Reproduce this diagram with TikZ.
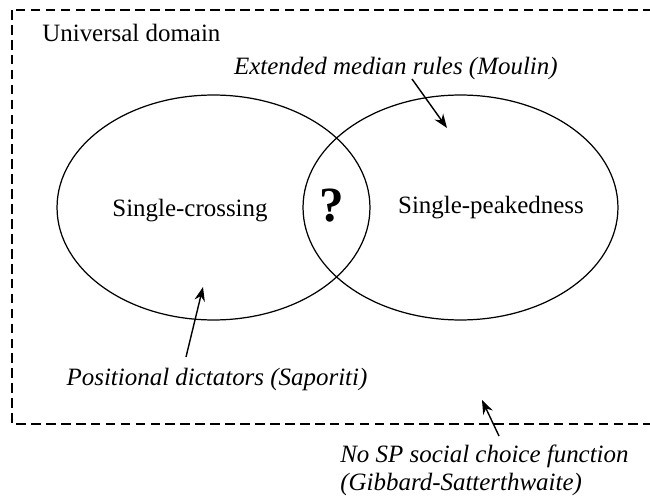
\documentclass[tikz,border=0pt]{standalone}
\usepackage{fontspec}
\setmainfont{Liberation Serif}
\usetikzlibrary{positioning, arrows.meta, shapes.geometric}

\begin{document}
\begin{tikzpicture}[
    x=0.02cm, y=-0.02cm,
    setbox/.style={draw, ellipse, line width=0.7pt, inner sep=0pt},
    lbl/.style={font=\fontsize{14.2}{16}\selectfont, inner sep=0pt},
    src/.style={font=\fontsize{14.2}{15.4}\selectfont\itshape, inner sep=0pt, align=left},
    arr/.style={-{Stealth[length=2.8mm, width=2.1mm]}, line width=0.8pt},
  ]
    \useasboundingbox (0,0) rectangle (650,500);
    \begin{scope}
      \clip (0,0) rectangle (650,500);
      \draw[dash pattern=on 5.5pt off 3pt, line width=0.7pt] (12,10) rectangle (680,424);
    \end{scope}

    \node[lbl, anchor=base west] (univ) at (42,42) {Universal domain};

    \node[setbox, minimum width=6.26cm, minimum height=4.5cm] (sc) at (213.5,207.5) {};
    \node[setbox, minimum width=6.3cm, minimum height=4.5cm] (sp) at (460.5,207.5) {};

    \node[lbl, anchor=base] (crossing) at (190,216) {Single-crossing};
    \node[lbl, anchor=base] (peaked) at (491,214) {Single-peakedness};
    \node[font=\fontsize{28}{30}\selectfont\bfseries, inner sep=0pt, anchor=base] (q) at (332,222) {?};

    \node[src, anchor=base east] (moulin) at (558,75) {Extended median rules (Moulin)};
    \node[src, anchor=base] (saporiti) at (217,385) {Positional dictators (Saporiti)};
    \node[src, anchor=base west] (gs) at (340,490) {No SP social choice function\\(Gibbard-Satterthwaite)};

    \coordinate (m1) at (412,79);
    \coordinate (m2) at (447,128);
    \coordinate (s1) at (186,357);
    \coordinate (s2) at (203,287);
    \coordinate (g1) at (499,436);
    \coordinate (g2) at (482,400);

    \draw[arr] (m1) -- (m2);
    \draw[arr] (s1) -- (s2);
    \draw[arr] (g1) -- (g2);
  \end{tikzpicture}
\end{document}
